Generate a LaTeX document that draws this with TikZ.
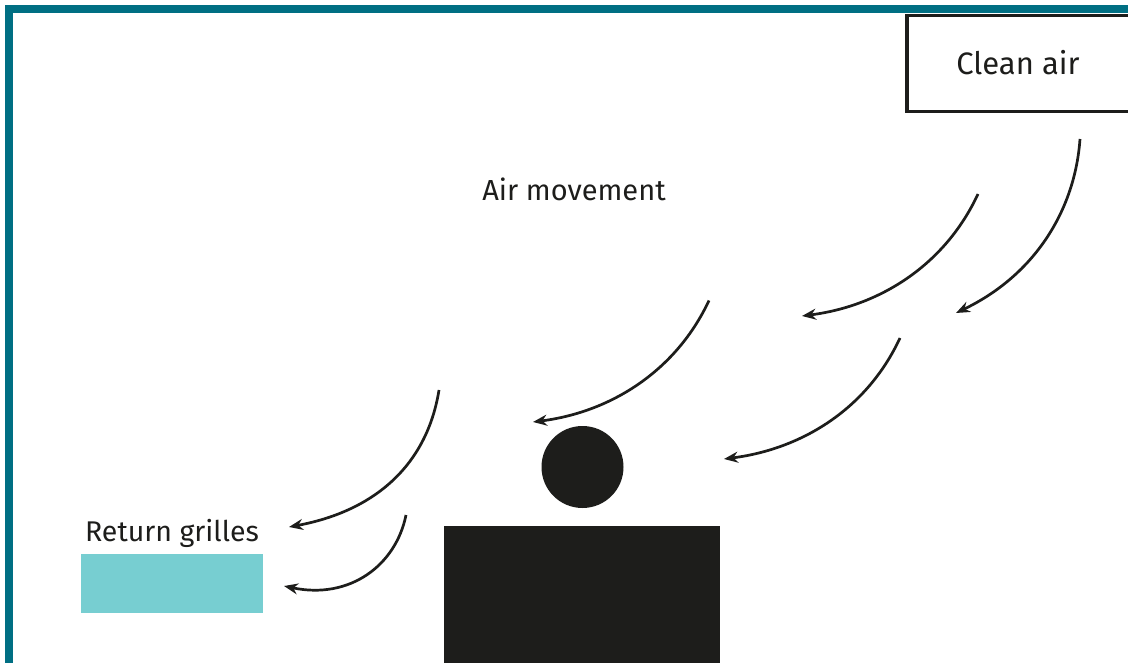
\documentclass[tikz,border=0pt]{standalone}
\usepackage{fontspec}
\setmainfont{Fira Sans}[Scale=1]
\usetikzlibrary{arrows.meta}
\definecolor{frameteal}{HTML}{006F83}
\definecolor{grille}{HTML}{77CED1}
\definecolor{ink}{HTML}{1D1D1B}
\tikzset{
  lbl/.style={text=ink,font=\fontsize{29}{34}\selectfont,inner sep=0pt,anchor=base},
  biglbl/.style={lbl,font=\fontsize{31}{36}\selectfont},
  tightlbl/.style={lbl,font=\fontsize{28.5}{34}\selectfont},
  flow/.style={draw=ink,line width=2.7pt,-{Stealth[length=14pt,width=11pt]}},
  solid shape/.style={fill=ink,draw=none}
}
\begin{document}
\begin{tikzpicture}[x=1pt,y=-1pt]
\path[use as bounding box,fill=white] (0,0) rectangle (1128,663);
\draw[frameteal,line width=8pt] (9,663) -- (9,9) -- (1128,9);
\node[draw=ink,line width=3.2pt,fill=white,minimum width=230pt,minimum height=96pt,inner sep=0pt] (clean) at (1022,63.5) {};
\node[biglbl] (cleanlabel) at (1018,75) {Clean air};
\node[lbl] (air) at (574,200.5) {Air movement};
\node[tightlbl] (ret) at (172,541) {Return grilles};
\node[fill=grille,minimum width=182pt,minimum height=59pt,inner sep=0pt] (grilles) at (172,583.5) {};
\node[solid shape,circle,minimum size=82pt,inner sep=0pt] (head) at (582.5,467) {};
\node[solid shape,minimum width=276pt,minimum height=137pt,inner sep=0pt] (body) at (582,594.5) {};
\coordinate (a1s) at (1080,139); \coordinate (a1e) at (956,313);
\coordinate (a2s) at (978,194); \coordinate (a2e) at (802,316);
\coordinate (a3s) at (900,338); \coordinate (a3e) at (724,459);
\coordinate (a4s) at (709,300.5); \coordinate (a4e) at (533,422);
\coordinate (a5s) at (439,390); \coordinate (a5e) at (289,527);
\coordinate (a6s) at (406,515); \coordinate (a6e) at (284,586);
\draw[flow] (a1s) .. controls (1075,210) and (1035,275) .. (a1e);
\draw[flow] (a2s) .. controls (945,265) and (880,306) .. (a2e);
\draw[flow] (a3s) .. controls (867,409) and (802,449) .. (a3e);
\draw[flow] (a4s) .. controls (676,371) and (611,412) .. (a4e);
\draw[flow] (a5s) .. controls (427,465) and (375,511) .. (a5e);
\draw[flow] (a6s) .. controls (396,565) and (350,600) .. (a6e);
\end{tikzpicture}
\end{document}
